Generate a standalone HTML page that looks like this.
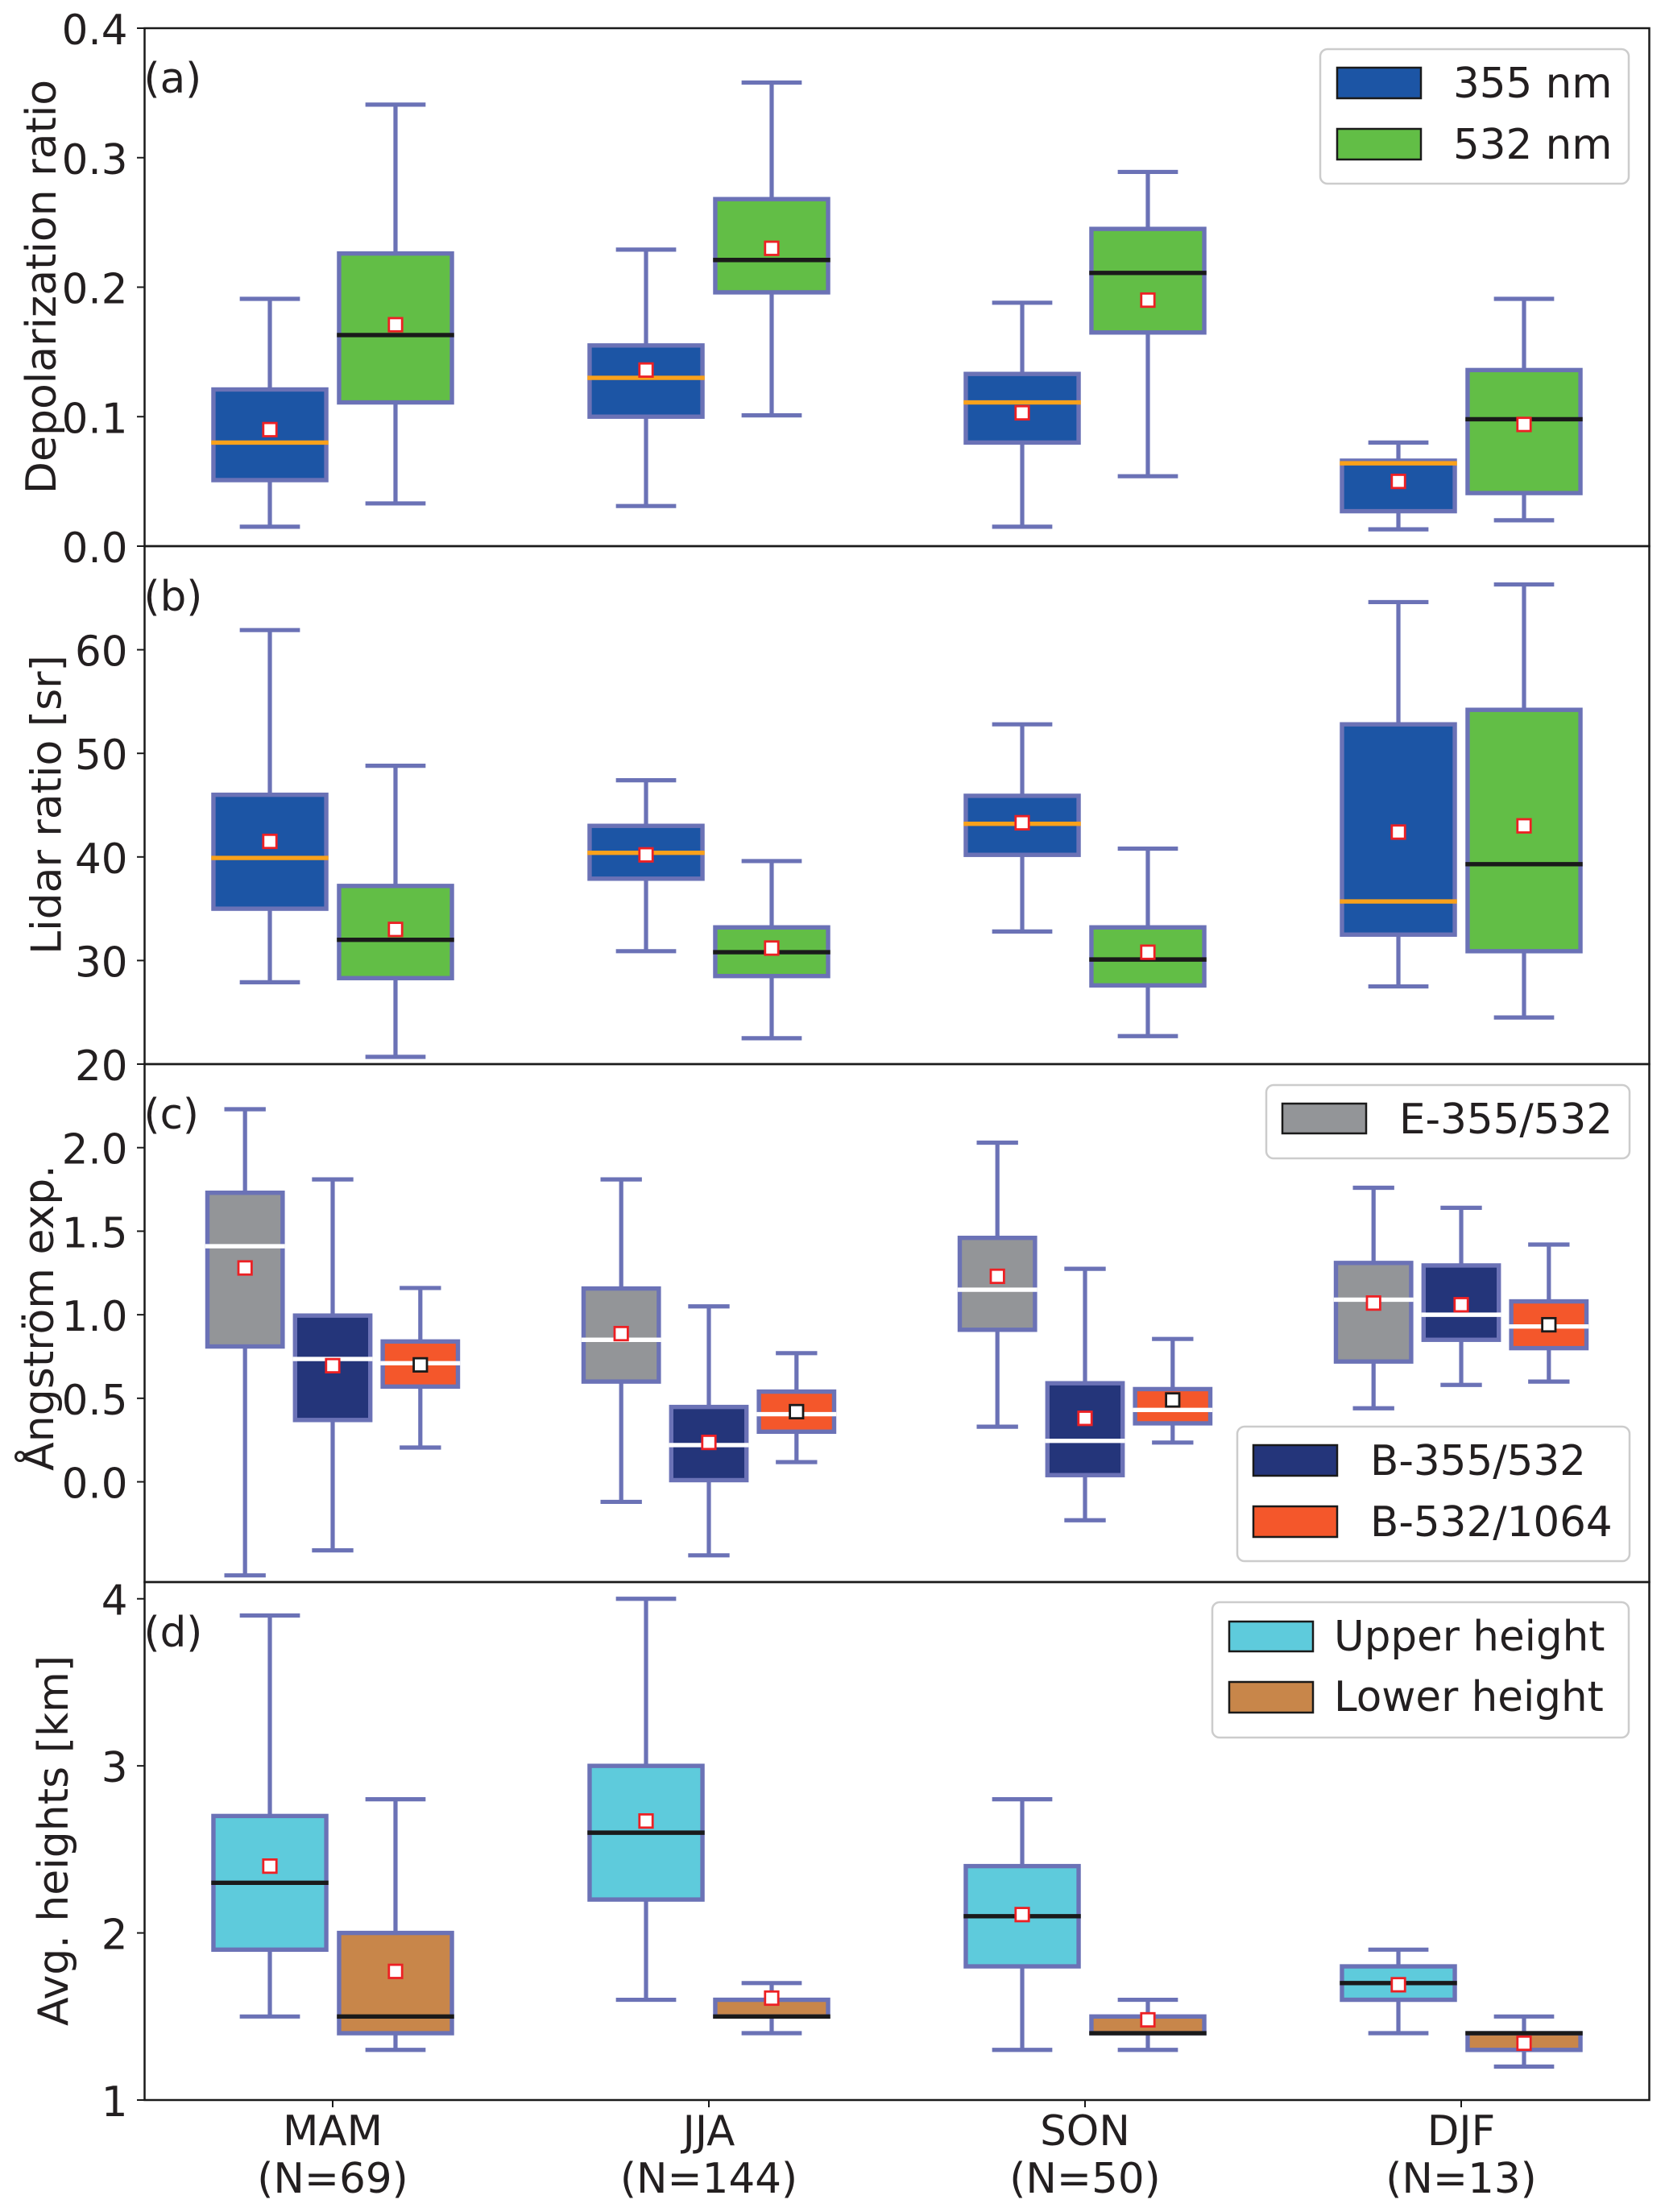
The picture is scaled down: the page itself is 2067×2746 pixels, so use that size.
<!DOCTYPE html>
<html lang="en">
<head>
<meta charset="utf-8">
<title>Seasonal aerosol optical properties box plots</title>
<style>
html,body{margin:0;padding:0;background:#fff;}
svg{display:block;}
text{font-family:"DejaVu Sans","Liberation Sans",sans-serif;font-size:51.5px;fill:#231f20;}
text.axis-title{font-size:52px;}
</style>
</head>
<body>
<svg id="chart" xmlns="http://www.w3.org/2000/svg" width="2067" height="2746" viewBox="0 0 2067 2746">
  <rect x="0" y="0" width="2067" height="2746" fill="#ffffff"/>
  <g id="marks"></g>
  <g id="axes"></g>

  <text class="axis-title" transform="translate(69 356) rotate(-90)" text-anchor="middle">Depolarization ratio</text>
  <text class="axis-title" transform="translate(75.5 999) rotate(-90)" text-anchor="middle">Lidar ratio [sr]</text>
  <text class="axis-title" transform="translate(66 1636) rotate(-90)" text-anchor="middle">Ångström exp.</text>
  <text class="axis-title" transform="translate(84 2285) rotate(-90)" text-anchor="middle">Avg. heights [km]</text>

  <text x="178.5" y="115">(a)</text>
  <text x="178.5" y="758">(b)</text>
  <text x="178.5" y="1401">(c)</text>
  <text x="178.5" y="2044">(d)</text>

  <g>
    <rect x="1639" y="61" width="383" height="167" rx="9" fill="#fff" stroke="#cccccc" stroke-width="2.5"/>
    <rect x="1660" y="84" width="104" height="38" fill="#1c55a5" stroke="#1a1a1a" stroke-width="2.5"/>
    <text x="1804" y="121">355 nm</text>
    <rect x="1660" y="160" width="104" height="38" fill="#62be46" stroke="#1a1a1a" stroke-width="2.5"/>
    <text x="1804" y="197">532 nm</text>
  </g>
  <g>
    <rect x="1572" y="1347" width="451" height="91" rx="9" fill="#fff" stroke="#cccccc" stroke-width="2.5"/>
    <rect x="1592" y="1370" width="104" height="37" fill="#939598" stroke="#1a1a1a" stroke-width="2.5"/>
    <text x="1737" y="1407">E-355/532</text>
  </g>
  <g>
    <rect x="1536" y="1771" width="487" height="167" rx="9" fill="#fff" stroke="#cccccc" stroke-width="2.5"/>
    <rect x="1556" y="1794" width="104" height="38" fill="#24357a" stroke="#1a1a1a" stroke-width="2.5"/>
    <text x="1701" y="1831">B-355/532</text>
    <rect x="1556" y="1870" width="104" height="38" fill="#f4572b" stroke="#1a1a1a" stroke-width="2.5"/>
    <text x="1701" y="1907">B-532/1064</text>
  </g>
  <g>
    <rect x="1505" y="1989" width="517" height="168" rx="9" fill="#fff" stroke="#cccccc" stroke-width="2.5"/>
    <rect x="1526" y="2013" width="104" height="37" fill="#5ecbdc" stroke="#1a1a1a" stroke-width="2.5"/>
    <text x="1656" y="2049">Upper height</text>
    <rect x="1526" y="2088" width="104" height="38" fill="#c8864a" stroke="#1a1a1a" stroke-width="2.5"/>
    <text x="1656" y="2124">Lower height</text>
  </g>
</svg>

<script>
// Categories and x tick labels
const seasons = ['MAM', 'JJA', 'SON', 'DJF'];
const seasonCounts = ['(N=69)', '(N=144)', '(N=50)', '(N=13)'];

// Y ticks
const depolTicks = [0, 0.1, 0.2, 0.3, 0.4];
const depolTickLabels = ['0.0', '0.1', '0.2', '0.3', '0.4'];
const lidarTicks = [20, 30, 40, 50, 60];
const lidarTickLabels = ['20', '30', '40', '50', '60'];
const angstromTicks = [0, 0.5, 1, 1.5, 2];
const angstromTickLabels = ['0.0', '0.5', '1.0', '1.5', '2.0'];
const heightTicks = [1, 2, 3, 4];
const heightTickLabels = ['1', '2', '3', '4'];

// Series: one row per season (MAM, JJA, SON, DJF)
// Row order: whisker low, Q1, median, Q3, whisker high, mean
const depol355 = [
  [0.015, 0.051, 0.080, 0.121, 0.191, 0.090],
  [0.031, 0.100, 0.130, 0.155, 0.229, 0.136],
  [0.015, 0.080, 0.111, 0.133, 0.188, 0.103],
  [0.013, 0.027, 0.064, 0.066, 0.080, 0.050]
];
const depol532 = [
  [0.033, 0.111, 0.163, 0.226, 0.341, 0.171],
  [0.101, 0.196, 0.221, 0.268, 0.358, 0.230],
  [0.054, 0.165, 0.211, 0.245, 0.289, 0.190],
  [0.020, 0.041, 0.098, 0.136, 0.191, 0.094]
];
const lidar355 = [
  [27.9, 35.0, 39.9, 46.0, 61.9, 41.5],
  [30.9, 37.9, 40.4, 43.0, 47.4, 40.2],
  [32.8, 40.2, 43.2, 45.9, 52.8, 43.3],
  [27.5, 32.5, 35.7, 52.8, 64.6, 42.4]
];
const lidar532 = [
  [20.7, 28.3, 32.0, 37.2, 48.8, 33.0],
  [22.5, 28.5, 30.8, 33.2, 39.6, 31.2],
  [22.7, 27.6, 30.1, 33.2, 40.8, 30.8],
  [24.5, 30.9, 39.3, 54.2, 66.3, 43.0]
];
const extinction355532 = [
  [-0.56, 0.81, 1.41, 1.73, 2.23, 1.28],
  [-0.12, 0.60, 0.85, 1.157, 1.81, 0.887],
  [0.33, 0.91, 1.15, 1.46, 2.03, 1.23],
  [0.44, 0.72, 1.09, 1.31, 1.76, 1.07]
];
const backscatter355532 = [
  [-0.41, 0.37, 0.735, 0.995, 1.81, 0.695],
  [-0.44, 0.01, 0.22, 0.448, 1.05, 0.236],
  [-0.23, 0.04, 0.245, 0.59, 1.275, 0.38],
  [0.58, 0.85, 1.00, 1.295, 1.64, 1.06]
];
const backscatter5321064 = [
  [0.205, 0.57, 0.71, 0.84, 1.16, 0.70],
  [0.118, 0.30, 0.405, 0.54, 0.77, 0.42],
  [0.235, 0.35, 0.43, 0.555, 0.855, 0.49],
  [0.60, 0.80, 0.93, 1.08, 1.42, 0.94]
];
const upperHeight = [
  [1.5, 1.9, 2.3, 2.7, 3.9, 2.40],
  [1.6, 2.2, 2.6, 3.0, 4.0, 2.67],
  [1.3, 1.8, 2.1, 2.4, 2.8, 2.11],
  [1.4, 1.6, 1.7, 1.8, 1.9, 1.69]
];
const lowerHeight = [
  [1.3, 1.4, 1.5, 2.0, 2.8, 1.77],
  [1.4, 1.5, 1.5, 1.6, 1.7, 1.61],
  [1.3, 1.4, 1.4, 1.5, 1.6, 1.48],
  [1.2, 1.3, 1.4, 1.4, 1.5, 1.34]
];

const SVG_NS = 'http://www.w3.org/2000/svg';
const marksLayer = document.getElementById('marks');
const axesLayer = document.getElementById('axes');

const EDGE = '#6b72b6';
const INK = '#1a1a1a';
const PLOT_LEFT = 179.5;
const PLOT_RIGHT = 2047.5;

// Axis functions
function linear(d0, d1, r0, r1) {
  return function (v) { return r0 + (v - d0) * (r1 - r0) / (d1 - d0); };
}
const xAxis = linear(-0.5, 3.5, PLOT_LEFT, PLOT_RIGHT);
const xWidth = function (units) { return xAxis(units) - xAxis(0); };
const yDepol = linear(0, 0.4, 678, 35);
const yLidar = linear(20, 70, 1321, 678);
const yAngstrom = linear(-0.6, 2.5, 1964, 1321);
const yHeight = linear(1, 4.1, 2607, 1964);

function shape(parent, tag, attrs, name) {
  const el = document.createElementNS(SVG_NS, tag);
  for (const key in attrs) { el.setAttribute(key, attrs[key]); }
  
  
  parent.appendChild(el);
  return el;
}

function drawBoxSeries(seriesName, rows, yAxis, offset, boxWidth, capWidth, fill, medianColor, meanColor) {
  const group = shape(marksLayer, 'g', {}, 'series-' + seriesName);
  rows.forEach(function (row, i) {
    const low = row[0], q1 = row[1], median = row[2], q3 = row[3], high = row[4], mean = row[5];
    const id = seriesName + '-' + seasons[i].toLowerCase();
    const cx = xAxis(i + offset);
    const bw = xWidth(boxWidth);
    const cw = xWidth(capWidth);
    const lineStyle = { stroke: EDGE, 'stroke-width': 5.2, fill: 'none' };
    shape(group, 'line', Object.assign({ x1: cx, x2: cx, y1: yAxis(q1), y2: yAxis(low) }, lineStyle), 'whisker-low-' + id);
    shape(group, 'line', Object.assign({ x1: cx, x2: cx, y1: yAxis(q3), y2: yAxis(high) }, lineStyle), 'whisker-high-' + id);
    shape(group, 'line', Object.assign({ x1: cx - cw / 2, x2: cx + cw / 2, y1: yAxis(low), y2: yAxis(low) }, lineStyle), 'cap-low-' + id);
    shape(group, 'line', Object.assign({ x1: cx - cw / 2, x2: cx + cw / 2, y1: yAxis(high), y2: yAxis(high) }, lineStyle), 'cap-high-' + id);
    shape(group, 'rect', {
      x: cx - bw / 2, y: yAxis(q3), width: bw, height: yAxis(q1) - yAxis(q3),
      fill: fill, stroke: EDGE, 'stroke-width': 5.4
    }, 'box-' + id);
    shape(group, 'line', {
      x1: cx - bw / 2 - 2.7, x2: cx + bw / 2 + 2.7, y1: yAxis(median), y2: yAxis(median),
      stroke: medianColor, 'stroke-width': 5.4
    }, 'median-' + id);
    shape(group, 'rect', {
      x: cx - 8.2, y: yAxis(mean) - 8.2, width: 16.4, height: 16.4,
      fill: '#ffffff', stroke: meanColor, 'stroke-width': 2.8
    }, 'mean-' + id);
  });
}

function drawYAxis(axisName, ticks, labels, yAxis) {
  const group = shape(axesLayer, 'g', {}, 'y-axis-' + axisName);
  ticks.forEach(function (tick, i) {
    const y = yAxis(tick);
    shape(group, 'line', { x1: 170, x2: PLOT_LEFT, y1: y, y2: y, stroke: INK, 'stroke-width': 2 }, 'y-tick-' + axisName + '-' + labels[i]);
    const label = shape(group, 'text', { x: 158.5, y: y + 20, 'text-anchor': 'end' }, 'y-tick-label-' + axisName + '-' + labels[i]);
    label.textContent = labels[i];
  });
}

function drawFrame(panelName, top, bottom) {
  shape(axesLayer, 'rect', {
    x: PLOT_LEFT, y: top, width: PLOT_RIGHT - PLOT_LEFT, height: bottom - top,
    fill: 'none', stroke: INK, 'stroke-width': 2.5
  }, 'panel-frame-' + panelName);
}

function drawXAxis(baseY) {
  const group = shape(axesLayer, 'g', {}, 'x-axis');
  seasons.forEach(function (season, i) {
    const x = xAxis(i);
    shape(group, 'line', { x1: x, x2: x, y1: baseY, y2: baseY + 9, stroke: INK, 'stroke-width': 2 }, 'x-tick-' + season.toLowerCase());
    const name = shape(group, 'text', { x: x, y: baseY + 56, 'text-anchor': 'middle' }, 'x-tick-label-' + season.toLowerCase());
    name.textContent = season;
    const count = shape(group, 'text', { x: x, y: baseY + 115, 'text-anchor': 'middle' }, 'x-sample-count-' + season.toLowerCase());
    count.textContent = seasonCounts[i];
  });
}

// Panel (a)
drawBoxSeries('depol-355', depol355, yDepol, -0.167, 0.3, 0.16, '#1c55a5', '#f9a11b', '#ed2024');
drawBoxSeries('depol-532', depol532, yDepol, 0.167, 0.3, 0.16, '#62be46', '#1a1a1a', '#ed2024');
// Panel (b)
drawBoxSeries('lidar-355', lidar355, yLidar, -0.167, 0.3, 0.16, '#1c55a5', '#f9a11b', '#ed2024');
drawBoxSeries('lidar-532', lidar532, yLidar, 0.167, 0.3, 0.16, '#62be46', '#1a1a1a', '#ed2024');
// Panel (c)
drawBoxSeries('e-355-532', extinction355532, yAngstrom, -0.233, 0.2, 0.11, '#939598', '#ffffff', '#ed2024');
drawBoxSeries('b-355-532', backscatter355532, yAngstrom, 0, 0.2, 0.11, '#24357a', '#ffffff', '#ed2024');
drawBoxSeries('b-532-1064', backscatter5321064, yAngstrom, 0.233, 0.2, 0.11, '#f4572b', '#ffffff', '#1a1a1a');
// Panel (d)
drawBoxSeries('upper-height', upperHeight, yHeight, -0.167, 0.3, 0.16, '#5ecbdc', '#1a1a1a', '#ed2024');
drawBoxSeries('lower-height', lowerHeight, yHeight, 0.167, 0.3, 0.16, '#c8864a', '#1a1a1a', '#ed2024');

drawFrame('a', 35, 678);
drawFrame('b', 678, 1321);
drawFrame('c', 1321, 1964);
drawFrame('d', 1964, 2607);

drawYAxis('depolarization', depolTicks, depolTickLabels, yDepol);
drawYAxis('lidar-ratio', lidarTicks, lidarTickLabels, yLidar);
drawYAxis('angstrom', angstromTicks, angstromTickLabels, yAngstrom);
drawYAxis('heights', heightTicks, heightTickLabels, yHeight);
drawXAxis(2607);
</script>
</body>
</html>
